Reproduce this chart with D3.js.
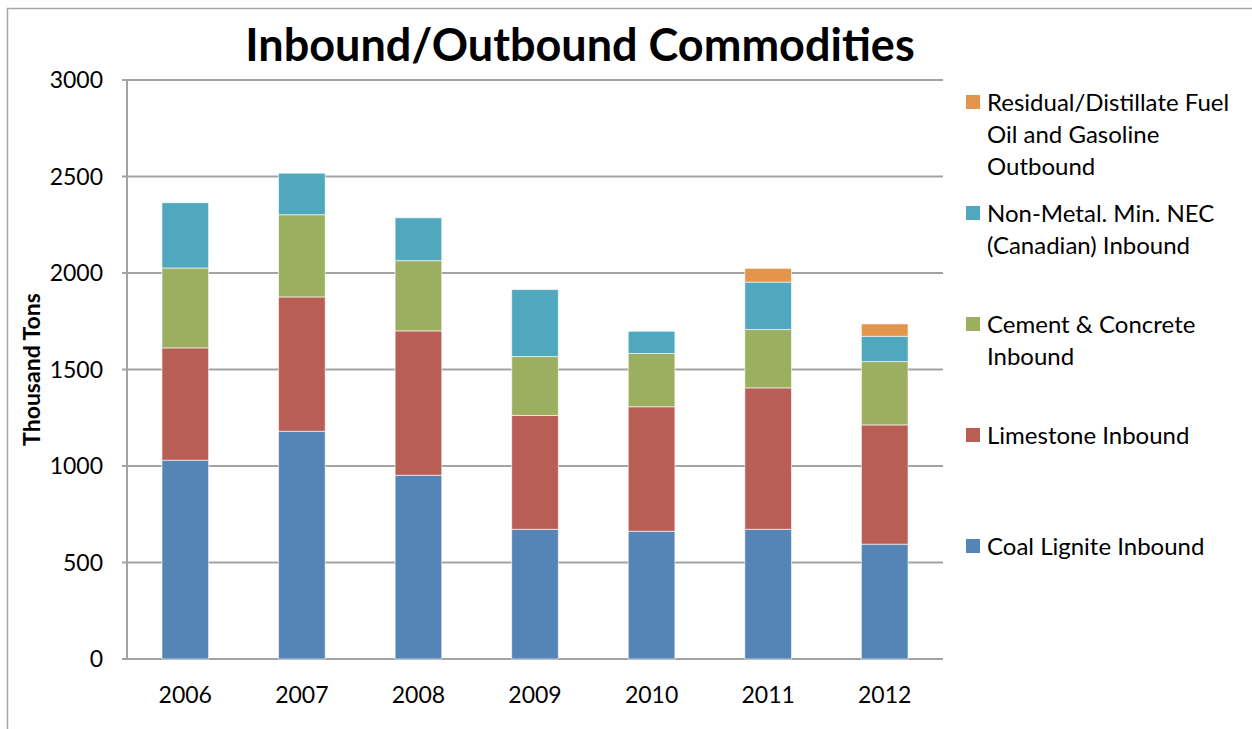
<!DOCTYPE html>
<html>
<head>
<meta charset="utf-8">
<script src="https://cdn.jsdelivr.net/npm/d3@7"></script>
<style>
  body { margin: 0; background: #fff; }
  svg text { font-family: Lato, "Open Sans", sans-serif; fill: #000; }
</style>
</head>
<body>
<svg id="chart" width="1252" height="729"></svg>
<script>
// data (thousand tons)
const years = ["2006", "2007", "2008", "2009", "2010", "2011", "2012"];
const coal = [1030, 1180, 952, 672, 662, 672, 595];
const limestone = [582, 696, 748, 590, 645, 733, 618];
const cement = [414, 426, 364, 305, 276, 302, 328];
const nonMetal = [338, 215, 222, 347, 115, 246, 131];
const residual = [0, 0, 0, 0, 0, 71, 64];
const yTicks = [0, 500, 1000, 1500, 2000, 2500, 3000];

const seriesNames = ["Coal Lignite Inbound", "Limestone Inbound", "Cement & Concrete Inbound",
  "Non-Metal. Min. NEC (Canadian) Inbound", "Residual/Distillate Fuel Oil and Gasoline Outbound"];
const seriesColors = ["#5584b7", "#b95e55", "#9caf60", "#4fa8bd", "#e3954c"];
// legend lines, wrapped the way the picture does it
const legendLines = [
  ["Coal Lignite Inbound"],
  ["Limestone Inbound"],
  ["Cement & Concrete", "Inbound"],
  ["Non-Metal. Min. NEC", "(Canadian) Inbound"],
  ["Residual/Distillate Fuel", "Oil and Gasoline", "Outbound"]
];

const margin = { top: 80, left: 127, right: 309, bottom: 70 };
const width = 1252, height = 729;

const svg = d3.select("#chart");

// outer chart frame
svg.append("rect")
  .attr("x", 7.5).attr("y", 8.5)
  .attr("width", 1260).attr("height", 740)
  .attr("fill", "none").attr("stroke", "#a6a6a6").attr("stroke-width", 1.5);

const x = d3.scaleBand()
  .domain(years)
  .range([margin.left, width - margin.right])
  .paddingInner(0.6)
  .paddingOuter(0.3);

const y = d3.scaleLinear()
  .domain([0, 3000])
  .range([height - margin.bottom, margin.top]);

// gridlines
svg.append("g")
  .selectAll("line")
  .data(yTicks)
  .join("line")
  .attr("x1", margin.left - 5)
  .attr("x2", width - margin.right)
  .attr("y1", d => y(d))
  .attr("y2", d => y(d))
  .attr("stroke", "#a3a3a3")
  .attr("stroke-width", 2);

// y axis line
svg.append("line")
  .attr("x1", margin.left).attr("x2", margin.left)
  .attr("y1", y(3000)).attr("y2", y(0))
  .attr("stroke", "#a3a3a3").attr("stroke-width", 2);

// y tick labels
svg.append("g")
  .selectAll("text")
  .data(yTicks)
  .join("text")
  .attr("x", 103)
  .attr("y", d => y(d))
  .attr("dy", "0.36em")
  .attr("text-anchor", "end")
  .style("font-size", "23px")
  .text(d => d);

// x labels
svg.append("g")
  .selectAll("text")
  .data(years)
  .join("text")
  .attr("x", d => x(d) + x.bandwidth() / 2)
  .attr("y", 703)
  .attr("text-anchor", "middle")
  .style("font-size", "23px")
  .text(d => d);

// stacked bars
const table = years.map((yr, i) => ({
  year: yr, s0: coal[i], s1: limestone[i], s2: cement[i], s3: nonMetal[i], s4: residual[i]
}));
const stack = d3.stack().keys(["s0", "s1", "s2", "s3", "s4"])(table);

svg.append("g")
  .selectAll("g")
  .data(stack)
  .join("g")
  .attr("fill", (d, i) => seriesColors[i])
  .selectAll("rect")
  .data(d => d.filter(p => p[1] > p[0]))
  .join("rect")
  .attr("x", d => x(d.data.year))
  .attr("width", x.bandwidth())
  .attr("y", d => y(d[1]))
  .attr("height", d => y(d[0]) - y(d[1]))
  .attr("stroke", "#ffffff")
  .attr("stroke-opacity", 0.6)
  .attr("stroke-width", 1);

// title
svg.append("text")
  .attr("x", 580)
  .attr("y", 61)
  .attr("text-anchor", "middle")
  .style("font-size", "45px")
  .style("font-weight", "bold")
  .text("Inbound/Outbound Commodities");

// y axis title
svg.append("text")
  .attr("transform", "translate(40," + ((y(0) + y(3000)) / 2) + ") rotate(-90)")
  .attr("text-anchor", "middle")
  .style("font-size", "23px")
  .style("font-weight", "bold")
  .text("Thousand Tons");

// legend, top entry is the last series
const legendTop = [102, 213, 324, 435, 546];
const legend = svg.append("g");
[4, 3, 2, 1, 0].forEach((s, k) => {
  const cy = legendTop[k];
  legend.append("rect")
    .attr("x", 966).attr("y", cy - 7)
    .attr("width", 14).attr("height", 14)
    .attr("fill", seriesColors[s]);
  legendLines[s].forEach((line, j) => {
    legend.append("text")
      .attr("x", 987)
      .attr("y", cy + j * 32)
      .attr("dy", "0.36em")
      .style("font-size", "24px")
      .text(line);
  });
});
</script>
</body>
</html>
